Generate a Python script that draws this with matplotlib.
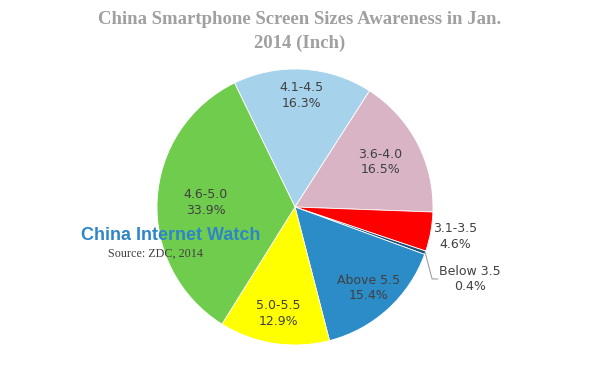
import numpy as np
import matplotlib.pyplot as plt

# slices, clockwise from the top
sizes = ["4.1-4.5", "3.6-4.0", "3.1-3.5", "Below 3.5", "Above 5.5", "5.0-5.5", "4.6-5.0"]
shares = [16.3, 16.5, 4.6, 0.4, 15.4, 12.9, 33.9]

colors = ["#a6d2eb", "#d8b4c5", "#ff0000", "#1f4e79", "#2b8cc8", "#ffff00", "#70cc4c"]
label_r = [0.81, 0.70, 1.18, None, 0.79, 0.78, 0.65]

fig = plt.figure(figsize=(6, 3.76), dpi=100)
ax = fig.add_axes([157 / 600, 31 / 376, 276 / 600, 276 / 376])

wedges, _ = ax.pie(shares, colors=colors, startangle=116, counterclock=False,
                   radius=1, wedgeprops=dict(edgecolor="white", linewidth=0.6))
ax.set_xlim(-1, 1)
ax.set_ylim(-1, 1)
ax.set_aspect("equal")
ax.axis("off")

for w, name, val, r in zip(wedges, sizes, shares, label_r):
    ang = np.deg2rad((w.theta1 + w.theta2) / 2)
    txt = f"{name}\n{val}%"
    if r is None:
        # tiny slice, label with a leader line
        x0, y0 = np.cos(ang), np.sin(ang)
        ax.plot([x0, x0 + 0.05, x0 + 0.09], [y0, y0 - 0.19, y0 - 0.19],
                color="#a0a0a0", lw=0.8, clip_on=False)
        ax.text(x0 + 0.10, y0 - 0.19, txt, ha="left", va="center", fontsize=9,
                color="#404040", linespacing=1.25, multialignment="center")
        continue
    ax.text(r * np.cos(ang), r * np.sin(ang), txt, ha="center", va="center",
            fontsize=9, color="#404040", linespacing=1.25)

title_kw = dict(ha="center", va="center", fontsize=13.5, fontweight="bold",
                color="#a0a0a0", family="Liberation Serif")
fig.text(0.5, 1 - 19 / 376, "China Smartphone Screen Sizes Awareness in Jan.", **title_kw)
fig.text(0.5, 1 - 43 / 376, "2014 (Inch)", **title_kw)
fig.text(171 / 600, 1 - 236 / 376, "China Internet Watch", ha="center", va="center",
         fontsize=13, fontweight="bold", color="#2e86c8", family="Liberation Sans")
fig.text(108 / 600, 1 - 254 / 376, "Source: ZDC, 2014", ha="left", va="center",
         fontsize=8.7, color="#404040", family="Liberation Serif")

fig.savefig("out.png", dpi=100)
